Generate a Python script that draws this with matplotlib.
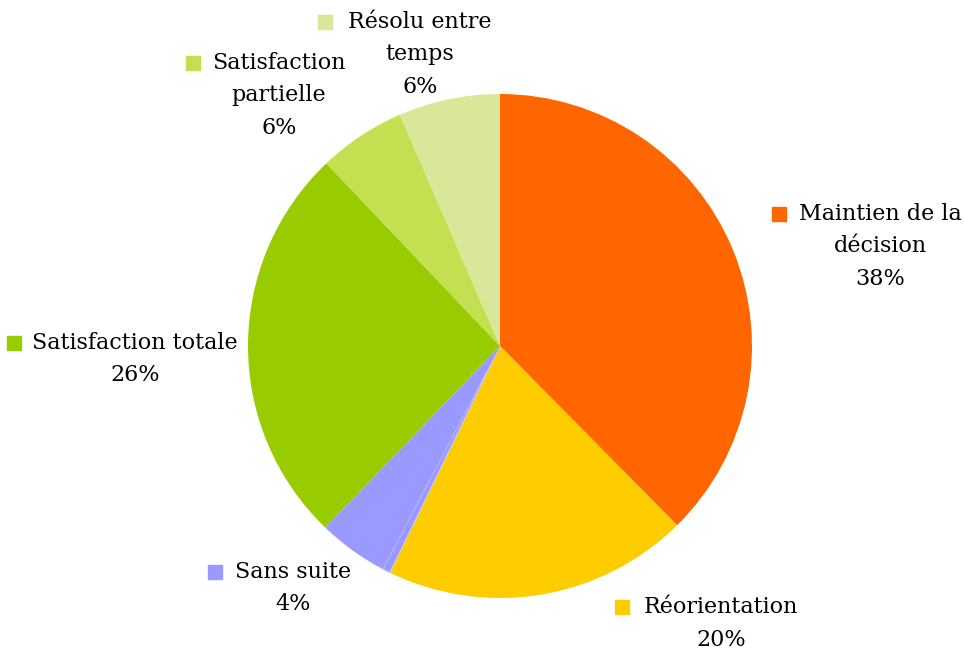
import matplotlib.pyplot as plt

# Données du graphique
categories = ['Maintien de la\ndécision', 'Réorientation', '', 'Sans suite',
              'Satisfaction totale', 'Satisfaction\npartielle', 'Résolu entre\ntemps']
valeurs = [37.6, 19.6, 0.5, 4.5, 25.7, 5.6, 6.5]
pourcentages = ['38%', '20%', '', '4%', '26%', '6%', '6%']
couleurs = ['#FF6600', '#FFCC00', '#9999FF', '#9999FF', '#99CC00', '#C2E050', '#D8E898']

# Position des étiquettes en pixels (centre du texte, première ligne, marqueur)
CX, CY, R = 500, 346, 252
INTERLIGNE = 32.5
etiquettes_px = {
    0: (880, 214, 779),
    1: (721, 607, 622),
    3: (293, 572, 215),
    4: (135, 343, 14),
    5: (279, 63, 193),
    6: (420, 22, 325),
}


def px2data(px, py):
    return (px - CX) / R, (CY - py) / R


fig = plt.figure(figsize=(9.64, 6.53), dpi=100)
ax = fig.add_axes([0, 0, 1, 1])

parts, _ = ax.pie(valeurs, colors=couleurs, startangle=90, counterclock=False,
                  radius=1, wedgeprops={'linewidth': 0})
# fine bordure claire autour de la petite part
parts[2].set_edgecolor('#C8C8FF')
parts[2].set_linewidth(0.8)

ax.set_xlim(-CX / R, (964 - CX) / R)
ax.set_ylim(-(653 - CY) / R, CY / R)
ax.set_aspect('equal')
ax.axis('off')

police = 'DejaVu Serif'
for i, (tx, ty, mx) in etiquettes_px.items():
    lignes = categories[i].split('\n') + [pourcentages[i]]
    for k, ligne in enumerate(lignes):
        x, y = px2data(tx, ty + k * INTERLIGNE)
        ax.text(x, y, ligne, ha='center', va='center', fontsize=16,
                family=police, color='#000000')
    mxd, myd = px2data(mx, ty)
    ax.scatter([mxd], [myd], marker='s', s=100, color=couleurs[i], zorder=5)

fig.savefig('out.png', dpi=100)
